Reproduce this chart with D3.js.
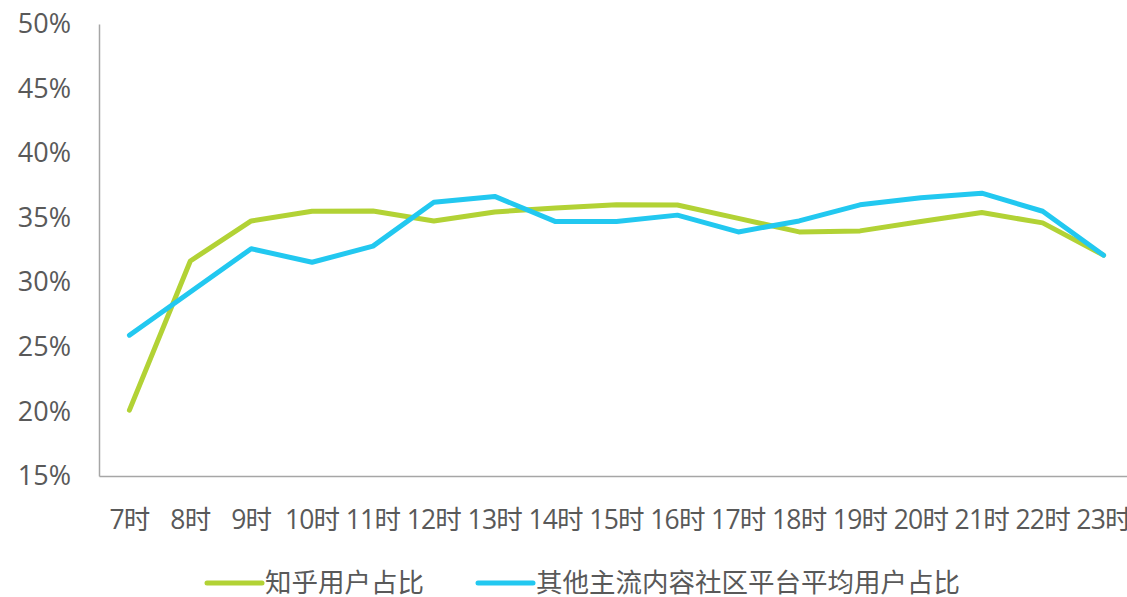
<!DOCTYPE html>
<html>
<head>
<meta charset="utf-8">
<script src="https://cdn.jsdelivr.net/npm/d3@7"></script>
<style>
  html, body { margin: 0; padding: 0; background: #fff; }
  svg { display: block; }
  text { font-family: "Open Sans", "Noto Sans CJK SC", sans-serif; fill: #595959; }
</style>
</head>
<body>
<svg id="chart"></svg>
<script>
const hours = ['7时', '8时', '9时', '10时', '11时', '12时', '13时', '14时', '15时',
  '16时', '17时', '18时', '19时', '20时', '21时', '22时', '23时'];

const zhihu = [0.201, 0.3165, 0.3475, 0.355, 0.3552, 0.3475, 0.3545, 0.3575, 0.360,
  0.3598, 0.3495, 0.339, 0.3398, 0.347, 0.354, 0.346, 0.321];

const others = [0.259, 0.2925, 0.326, 0.3155, 0.328, 0.362, 0.3665, 0.347, 0.347,
  0.352, 0.339, 0.3475, 0.360, 0.3655, 0.369, 0.355, 0.321];

const yTicks = [0.15, 0.2, 0.25, 0.3, 0.35, 0.4, 0.45, 0.5];

const seriesNames = ['知乎用户占比', '其他主流内容社区平台平均用户占比'];
const seriesColors = ['#b2d235', '#22c8f0'];

const width = 1127;
const height = 597;
const margin = { top: 24, right: -7, bottom: 121, left: 99 };

const svg = d3.select('#chart').attr('width', width).attr('height', height);

const x = d3
  .scaleBand()
  .domain(hours)
  .range([margin.left, width - margin.right])
  .padding(0);

const y = d3
  .scaleLinear()
  .domain([0.15, 0.5])
  .range([height - margin.bottom, margin.top]);

// y axis
const yAxis = svg
  .append('g')
  .attr('transform', `translate(${margin.left},0)`)
  .call(
    d3.axisLeft(y)
      .tickValues(yTicks)
      .tickSize(0)
      .tickPadding(28)
      .tickFormat(d3.format('.0%'))
  );
yAxis.select('.domain').attr('stroke', '#a6a6a6').attr('stroke-width', 1.5);
yAxis.selectAll('text')
  .style('font-size', '27px')
  .style('fill', '#595959')
  .style('font-family', '"Open Sans", "Noto Sans CJK SC", sans-serif');

// x axis
const xAxis = svg
  .append('g')
  .attr('transform', `translate(0,${height - margin.bottom})`)
  .call(d3.axisBottom(x).tickSize(0).tickPadding(34));
xAxis.select('.domain').attr('stroke', '#a6a6a6').attr('stroke-width', 1.5);
xAxis.selectAll('text')
  .style('font-size', '26.5px')
  .style('fill', '#595959')
  .style('font-family', '"Open Sans", "Noto Sans CJK SC", sans-serif')
  .attr('letter-spacing', '-0.8px');

const line = d3
  .line()
  .x((d, i) => x(hours[i]) + x.bandwidth() / 2)
  .y(d => y(d));

[zhihu, others].forEach((values, i) => {
  svg
    .append('path')
    .datum(values)
    .attr('fill', 'none')
    .attr('stroke', seriesColors[i])
    .attr('stroke-width', 5)
    .attr('stroke-linejoin', 'round')
    .attr('stroke-linecap', 'round')
    .attr('d', line);
});

// legend
const legendX = [207, 478];
const legendY = 583;
seriesNames.forEach((name, i) => {
  const g = svg.append('g').attr('transform', `translate(${legendX[i]},${legendY})`);
  g.append('line')
    .attr('x1', 0)
    .attr('x2', 55)
    .attr('stroke', seriesColors[i])
    .attr('stroke-width', 5)
    .attr('stroke-linecap', 'round');
  g.append('text')
    .attr('x', 58)
    .attr('dy', '0.35em')
    .style('font-size', '26.5px')
    .style('font-family', '"Noto Sans CJK SC", sans-serif')
    .text(name);
});
</script>
</body>
</html>
